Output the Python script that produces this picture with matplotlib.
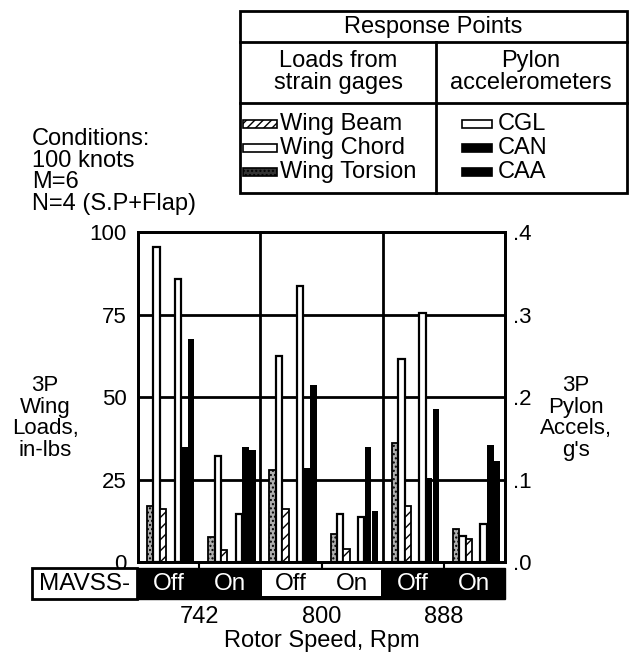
import matplotlib
matplotlib.use('Agg')
import matplotlib.pyplot as plt
from matplotlib.patches import Rectangle
from matplotlib.transforms import blended_transform_factory
import numpy as np

plt.rcParams['font.family'] = ['Liberation Sans', 'DejaVu Sans']
plt.rcParams['hatch.linewidth'] = 1.0

# ---- data ----
rpm_labels = ['742', '800', '888']
mavss_states = ['Off', 'On', 'Off', 'On', 'Off', 'On']
# wing loads, in-lbs (left axis)
wing_torsion = [17, 7.5, 28, 8.5, 36, 10]
wing_chord = [95.5, 32, 62.5, 14.5, 61.5, 8]
wing_beam = [16, 3.5, 16, 4, 17, 7]
# pylon accelerations, g's (right axis)
cgl = [0.343, 0.058, 0.334, 0.054, 0.302, 0.046]
can = [0.140, 0.140, 0.114, 0.140, 0.102, 0.142]
caa = [0.270, 0.136, 0.215, 0.062, 0.186, 0.122]
left_ticks = [0, 25, 50, 75, 100]
right_ticks = [0.0, 0.1, 0.2, 0.3, 0.4]
right_ticklabels = ['.0', '.1', '.2', '.3', '.4']

W, H = 629, 654
FS = 17
TFS = 16
fig = plt.figure(figsize=(W / 100, H / 100), dpi=100)

# overlay axes in pixel coordinates for table / annotations
ov = fig.add_axes([0, 0, 1, 1], zorder=0)
ov.set_xlim(0, W)
ov.set_ylim(H, 0)
ov.axis('off')

# main axes
ax_l, ax_r, ax_t, ax_b = 138, 505, 232, 562
ax = fig.add_axes([ax_l / W, (H - ax_b) / H, (ax_r - ax_l) / W, (ax_b - ax_t) / H], zorder=1)
x = np.arange(len(mavss_states))
w = 0.105
ax.bar(x + 0.20, wing_torsion, w, facecolor='#b0b0b0', edgecolor='black', hatch='....', lw=1.3, zorder=3)
ax.bar(x + 0.305, wing_chord, w, facecolor='white', edgecolor='black', lw=1.6, zorder=3)
ax.bar(x + 0.41, wing_beam, w, facecolor='white', edgecolor='black', hatch='///', lw=1.3, zorder=3)
ax.set_xlim(0, 6)
ax.set_ylim(0, 100)
for v in [25, 50, 75]:
    ax.axhline(v, color='black', lw=2, zorder=1)
for v in [2, 4]:
    ax.axvline(v, color='black', lw=2, zorder=1)
ax.set_yticks(left_ticks)
ax.set_yticklabels([str(t) for t in left_ticks], fontsize=TFS)
ax.tick_params(axis='y', length=0, pad=8)
ax.set_xticks([1, 3, 5])
ax.set_xticklabels([])
ax.tick_params(axis='x', length=4.5, width=1.5, direction='out')
for s in ax.spines.values():
    s.set_linewidth(2)

ax2 = ax.twinx()
ax2.bar(x + 0.65, cgl, w, facecolor='white', edgecolor='black', lw=1.6, zorder=3)
ax2.bar(x + 0.76, can, w, color='black', zorder=3)
ax2.bar(x + 0.87, caa, w, color='black', zorder=3)
ax2.set_ylim(0, 0.4)
ax2.set_yticks(right_ticks)
ax2.set_yticklabels(right_ticklabels, fontsize=TFS)
ax2.tick_params(axis='y', length=0, pad=6)
for s in ax2.spines.values():
    s.set_linewidth(2)

# MAVSS band
bt, bb = 568, 599
bx = fig.add_axes([ax_l / W, (H - bb) / H, (ax_r - ax_l) / W, (bb - bt) / H], zorder=1)
bx.set_xlim(0, 6)
bx.set_ylim(0, 1)
bx.axis('off')
bx.add_patch(Rectangle((0, 0), 6, 1, facecolor='black', edgecolor='black', lw=1, clip_on=False))
bx.add_patch(Rectangle((2.03, 0.1), 1.95, 0.82, facecolor='white', edgecolor='none'))
bx.add_patch(Rectangle((-1.733, 0), 1.717, 1, facecolor='white', edgecolor='black', lw=2, clip_on=False))
bx.text(-0.875, 0.47, 'MAVSS-', ha='center', va='center', fontsize=17.5)
for i, st in enumerate(mavss_states):
    col = 'black' if i in (2, 3) else 'white'
    bx.text(i + 0.5, 0.47, st, ha='center', va='center', fontsize=17.5, color=col)
tr = blended_transform_factory(bx.transData, fig.transFigure)
for i, r in enumerate(rpm_labels):
    bx.text(2 * i + 1, (H - 617) / H, r, ha='center', va='center', fontsize=FS, transform=tr)
bx.text(3, (H - 641) / H, 'Rotor Speed, Rpm', ha='center', va='center', fontsize=FS, transform=tr)

# axis titles
ov.text(45, 418, '3P\nWing\nLoads,\nin-lbs', ha='center', va='center', fontsize=TFS, linespacing=1.05)
ov.text(576, 418, '3P\nPylon\nAccels,\ng\'s', ha='center', va='center', fontsize=TFS, linespacing=1.05)

# conditions
ov.text(32, 128, 'Conditions:\n100 knots\nM=6\nN=4 (S.P+Flap)', ha='left', va='top', fontsize=FS, linespacing=0.98)

# legend table
tl, tr_, tt, tb = 240, 627, 11, 193
ov.add_patch(Rectangle((tl, tt), tr_ - tl, tb - tt, facecolor='none', edgecolor='black', lw=2))
ov.plot([tl, tr_], [42, 42], color='black', lw=2)
ov.plot([tl, tr_], [103, 103], color='black', lw=2)
ov.plot([436, 436], [42, tb], color='black', lw=2)
ov.text(433, 27, 'Response Points', ha='center', va='center', fontsize=FS)
ov.text(338, 72, 'Loads from\nstrain gages', ha='center', va='center', fontsize=FS, linespacing=1.0)
ov.text(531, 72, 'Pylon\naccelerometers', ha='center', va='center', fontsize=FS, linespacing=1.0)
rows_y = [124, 148, 172]
left_items = [('Wing Beam', dict(facecolor='white', edgecolor='black', hatch='////')),
              ('Wing Chord', dict(facecolor='white', edgecolor='black')),
              ('Wing Torsion', dict(facecolor='#333333', edgecolor='black', hatch='....'))]
right_items = [('CGL', dict(facecolor='white', edgecolor='black')),
               ('CAN', dict(facecolor='black', edgecolor='black')),
               ('CAA', dict(facecolor='black', edgecolor='black'))]
for (lab, st), yy in zip(left_items, rows_y):
    ov.add_patch(Rectangle((243, yy - 4), 34, 8, lw=1.2, **st))
    ov.text(280, yy, lab, ha='left', va='center', fontsize=FS)
for (lab, st), yy in zip(right_items, rows_y):
    ov.add_patch(Rectangle((462, yy - 4), 30, 8, lw=1.2, **st))
    ov.text(498, yy, lab, ha='left', va='center', fontsize=FS)

fig.savefig('out.png', dpi=100)
